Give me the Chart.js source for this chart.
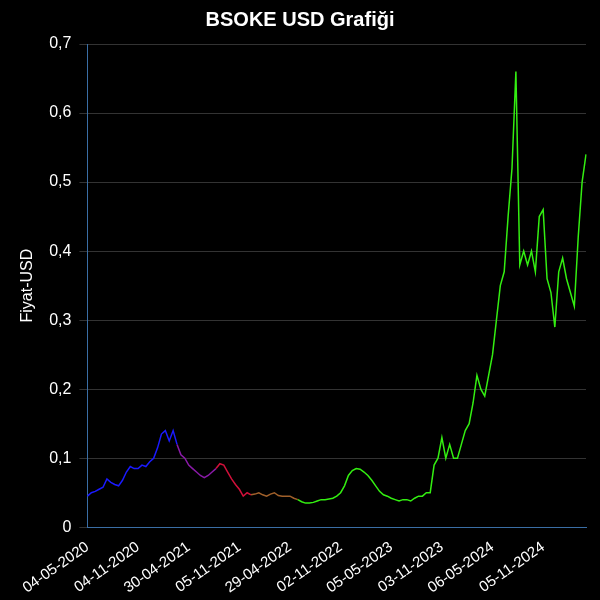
<!DOCTYPE html>
<html>
<head>
<meta charset="utf-8">
<script src="https://cdn.jsdelivr.net/npm/chart.js@4"></script>
<style>
	html, body { margin: 0; background: #000; }
	#wrap { width: 600px; height: 600px; }
</style>
</head>
<body>
<div id="wrap"><canvas id="chart"></canvas></div>
<script>
// every tick label is 13 points (two weeks apart) after the one before
const tickLabels = ["04-05-2020", "04-11-2020", "30-04-2021", "05-11-2021", "29-04-2022",
	"02-11-2022", "05-05-2023", "03-11-2023", "06-05-2024", "05-11-2024"];

const prices = [
	0.045, 0.05, 0.052, 0.055, 0.058, 0.07, 0.065, 0.062, 0.06, 0.068, 0.08, 0.088, 0.085,
	0.085, 0.09, 0.088, 0.095, 0.1, 0.115, 0.135, 0.14, 0.125, 0.14, 0.12, 0.105, 0.1,
	0.09, 0.085, 0.08, 0.075, 0.072, 0.075, 0.08, 0.085, 0.092, 0.09, 0.08, 0.07, 0.062,
	0.055, 0.045, 0.05, 0.047, 0.048, 0.05, 0.047, 0.045, 0.048, 0.05, 0.046, 0.045, 0.045,
	0.045, 0.042, 0.04, 0.037, 0.035, 0.035, 0.036, 0.038, 0.04, 0.04, 0.041, 0.042, 0.045,
	0.05, 0.06, 0.075, 0.082, 0.085, 0.084, 0.08, 0.075, 0.068, 0.06, 0.052, 0.047, 0.045,
	0.042, 0.04, 0.038, 0.04, 0.04, 0.038, 0.042, 0.045, 0.045, 0.05, 0.05, 0.09, 0.1,
	0.13, 0.1, 0.12, 0.1, 0.1, 0.12, 0.14, 0.15, 0.18, 0.22, 0.2, 0.19, 0.22,
	0.25, 0.3, 0.35, 0.37, 0.45, 0.52, 0.66, 0.38, 0.4, 0.38, 0.4, 0.37, 0.45,
	0.46, 0.36, 0.34, 0.29, 0.37, 0.39, 0.36, 0.34, 0.32, 0.42, 0.5, 0.54
];

// index where each colour section ends
const colourBreaks = [23, 33, 42, 54];
const colours = ["#1a1aff", "#8a1aa8", "#d0103a", "#a0602a", "#33ee11"];

const labels = prices.map((v, i) => i % 13 === 0 ? tickLabels[i / 13] : "");

function segColour(ctx) {
	const i = ctx.p0DataIndex;
	for (let k = 0; k < colourBreaks.length; k++) {
		if (i < colourBreaks[k]) return colours[k];
	}
	return colours[colours.length - 1];
}

new Chart(document.getElementById("chart"), {
	type: "line",
	data: {
		labels: labels,
		datasets: [{
			data: prices,
			borderWidth: 1.5,
			pointRadius: 0,
			tension: 0,
			segment: { borderColor: segColour }
		}]
	},
	options: {
		animation: false,
		responsive: true,
		maintainAspectRatio: false,
		layout: { padding: { left: 14, right: 14 } },
		plugins: {
			legend: { display: false },
			tooltip: { enabled: false },
			title: {
				display: true,
				text: "BSOKE USD Grafiği",
				color: "#fff",
				font: { size: 20, weight: "bold", family: "Liberation Sans" },
				padding: { top: 8, bottom: 12 }
			}
		},
		scales: {
			x: {
				grid: { display: false },
				border: { color: "#3a6ea5" },
				ticks: {
					color: "#fff",
					autoSkip: false,
					maxRotation: 35,
					minRotation: 35,
					font: { size: 15, family: "Liberation Sans" },
					callback: (v, i) => labels[i]
				}
			},
			y: {
				min: 0,
				max: 0.7,
				grid: { color: "#333" },
				border: { color: "#3a6ea5" },
				title: { display: true, text: "Fiyat-USD", color: "#fff", font: { size: 16, family: "Liberation Sans" } },
				ticks: {
					color: "#fff",
					stepSize: 0.1,
					padding: 8,
					font: { size: 16, family: "Liberation Sans" },
					callback: v => v === 0 ? "0" : v.toFixed(1).replace(".", ",")
				}
			}
		}
	}
});
</script>
</body>
</html>
